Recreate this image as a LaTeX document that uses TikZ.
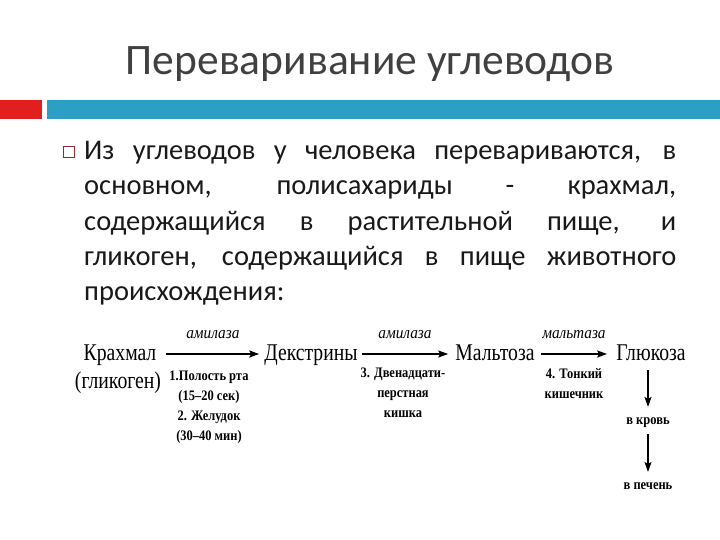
\documentclass[tikz,border=0pt]{standalone}
\usepackage{fontspec}
\setmainfont{Carlito}
\newfontfamily\dg[FakeStretch=0.82]{Liberation Serif}
\newfontfamily\dgs[FakeStretch=0.86]{Liberation Serif}
\newfontfamily\dgi[FakeStretch=0.9]{Liberation Serif}
\usetikzlibrary{arrows.meta}
\definecolor{titlegray}{HTML}{404040}
\definecolor{barred}{HTML}{E0201F}
\definecolor{barblue}{HTML}{2CA0C4}
\definecolor{bulletc}{HTML}{8B2C2C}
\tikzset{
  big/.style={font=\dg\fontsize{24}{26}\selectfont, inner sep=0pt, text height=17pt, text depth=5pt},
  small/.style={font=\dgs\bfseries\fontsize{14.5}{20}\selectfont, inner sep=0pt, align=center},
  enz/.style={font=\dgi\itshape\fontsize{17}{19}\selectfont, inner sep=0pt},
  arr/.style={line width=1.8pt, -{Stealth[length=10pt,width=7pt,inset=2pt]}},
  bodyline/.style={anchor=base west, inner sep=0pt, font=\fontsize{28.5}{35}\selectfont, text=black!90}
}
\begin{document}
\begin{tikzpicture}[x=1pt,y=-1pt]
\useasboundingbox (0,0) rectangle (720,540);
\fill[white] (0,0) rectangle (720,540);
% title
\node[font=\fontsize{43.5}{47}\selectfont, text=titlegray, inner sep=0pt, anchor=base] (title) at (370,75) {Переваривание углеводов};
% bars
\fill[barred] (0,100) rectangle (42,119);
\fill[barblue] (47,100) rectangle (720,119);
% bullet
\node[draw=bulletc, line width=0.6pt, minimum size=11pt, inner sep=0pt] (bul) at (69,152) {};
% body text
\node[bodyline] (l1) at (84,160) {\makebox[592pt][s]{Из углеводов у человека перевариваются, в}};
\node[bodyline] (l2) at (84,195) {\makebox[592pt][s]{основном, полисахариды - крахмал,}};
\node[bodyline] (l3) at (84,230) {\makebox[592pt][s]{содержащийся в растительной пище, и}};
\node[bodyline] (l4) at (84,265) {\makebox[592pt][s]{гликоген, содержащийся в пище животного}};
\node[bodyline] (l5) at (84,300) {происхождения:};
% diagram
\node[big, anchor=base] (krakh) at (120,360) {Крахмал};
\node[big, anchor=base] (glik) at (118,388) {(гликоген)};
\node[big, anchor=base] (dex) at (311,360) {Декстрины};
\node[big, anchor=base] (malt) at (495,360) {Мальтоза};
\node[big, anchor=base] (gluc) at (651,360) {Глюкоза};
\draw[arr] ([xshift=10pt]krakh.east) -- ([xshift=-5pt]dex.west) node[enz, midway, above=14pt] (e1) {амилаза};
\draw[arr] ([xshift=4pt]dex.east) -- ([xshift=-7pt]malt.west) node[enz, midway, above=14pt] (e2) {амилаза};
\draw[arr] ([xshift=6pt]malt.east) -- ([xshift=-9pt]gluc.west) node[enz, midway, above=14pt] (e3) {мальтаза};
\node[small, anchor=north] (s1) at (209,371) {1.Полость рта\\(15–20 сек)\\2. Желудок\\(30–40 мин)};
\node[small, anchor=north] (s2) at (403,368) {3. Двенадцати-\\перстная\\кишка};
\node[small, anchor=north] (s3) at (574,368) {4. Тонкий\\кишечник};
\node[small, anchor=base] (blood) at (648,424) {в кровь};
\node[small, anchor=base] (liver) at (648,489) {в печень};
\draw[arr] ([yshift=-5pt]gluc.south -| blood.north) -- ([yshift=10pt]blood.north);
\draw[arr] ([yshift=-7pt]blood.south) -- ([yshift=10pt]liver.north);
\end{tikzpicture}
\end{document}
